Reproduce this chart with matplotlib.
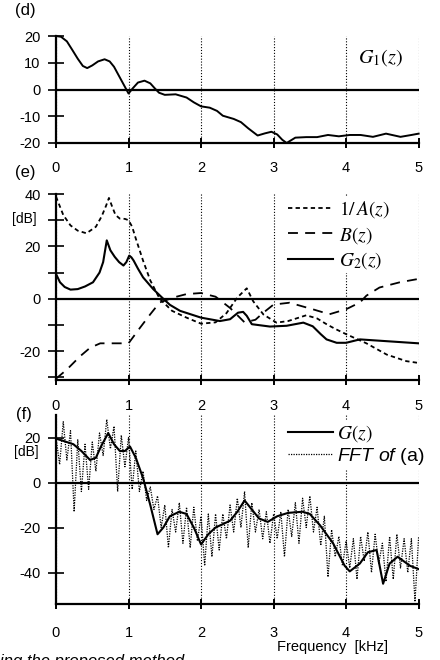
import numpy as np
import matplotlib
matplotlib.use('Agg')
import matplotlib.pyplot as plt
from matplotlib.font_manager import FontProperties

plt.rcParams['font.family'] = ['Liberation Sans', 'DejaVu Sans']
plt.rcParams['axes.unicode_minus'] = False
plt.rcParams['mathtext.fontset'] = 'custom'
plt.rcParams['mathtext.it'] = 'Liberation Sans:italic'
plt.rcParams['mathtext.rm'] = 'Liberation Sans'
plt.rcParams['mathtext.bf'] = 'Liberation Sans:bold'

# ---------------- data ----------------
freq_ticks = [0, 1, 2, 3, 4, 5]

# (d) G1(z)
g1_x = [0, 0.07, 0.15, 0.22, 0.3, 0.37, 0.43, 0.5, 0.58, 0.67, 0.74, 0.8, 0.86, 0.93,
        1.0, 1.06, 1.13, 1.22, 1.3, 1.36, 1.42, 1.5, 1.65, 1.8, 1.9, 2.0, 2.12, 2.22,
        2.3, 2.45, 2.55, 2.65, 2.78, 2.88, 2.97, 3.05, 3.12, 3.18, 3.3, 3.45, 3.6,
        3.75, 3.9, 4.05, 4.2, 4.37, 4.55, 4.75, 4.9, 5.0]
g1_y = [20, 19.7, 18, 15, 11.5, 8.8, 8, 9, 10.5, 11.3, 10.5, 8.5, 5.5, 2,
        -1.5, 0.5, 2.6, 3.3, 2.3, 0.5, -1.2, -2, -1.8, -3, -4.8, -6.3, -6.8, -8,
        -9.8, -11, -12.2, -14.5, -17.2, -16.4, -15.8, -16.8, -18.8, -20, -18,
        -17.8, -17.8, -17, -17.5, -17, -17, -17.7, -16.5, -17.7, -17, -16.5]

# (e) 1/A(z), B(z), G2(z)
inva_x = [0, 0.1, 0.2, 0.3, 0.42, 0.55, 0.63, 0.69, 0.73, 0.77, 0.82, 0.88, 0.95,
          1.0, 1.05, 1.1, 1.2, 1.3, 1.43, 1.6, 1.8, 2.0, 2.2, 2.35, 2.5, 2.63, 2.72,
          2.86, 3.04, 3.2, 3.45, 3.6, 3.73, 3.85, 4.0, 4.28, 4.56, 4.83, 5.0]
inva_y = [39, 32, 28, 26, 25, 27.5, 31.5, 35.5, 38.5, 35.5, 32, 30.6, 30.5,
          30, 27.5, 23, 14.6, 7, 0, -4.6, -7.2, -9.5, -9, -5.5, 0.5, 4, -1,
          -6, -9.1, -8.5, -6.3, -7.5, -9.7, -11.5, -13.5, -17, -21.3, -23.8, -24.5]

b_x = [0, 0.15, 0.33, 0.47, 0.61, 0.75, 0.9, 1.0, 1.16, 1.3, 1.43, 1.62, 1.8, 2.0,
       2.2, 2.4, 2.6, 2.75, 2.85, 3.0, 3.22, 3.54, 3.77, 4.0, 4.19, 4.28, 4.46, 4.74, 5.0]
b_y = [-30.5, -27, -22, -18.7, -17, -17, -17, -17, -11, -5.9, -1.4, 0.5, 1.8, 2.2,
       0.8, -3.5, -9, -8, -5.5, -2.2, -1.5, -4, -5.9, -4, -1.4, 1.2, 4.3, 6.3, 7.6]

g2_x = [0, 0.055, 0.12, 0.2, 0.3, 0.4, 0.51, 0.6, 0.65, 0.7, 0.75, 0.81, 0.87, 0.93,
        0.97, 1.01, 1.04, 1.07, 1.13, 1.2, 1.34, 1.48, 1.57, 1.71, 2.0, 2.26, 2.4,
        2.51, 2.58, 2.63, 2.7, 2.95, 3.18, 3.41, 3.54, 3.65, 3.73, 3.87, 4.0, 4.19,
        4.46, 5.0]
g2_y = [9.5, 6.3, 4.5, 3.5, 3.7, 4.7, 6.3, 10, 14, 22.3, 18.5, 16, 14, 12.7,
        14, 16.5, 15.8, 14.6, 11.5, 8.2, 3.7, 0, -2.3, -4.6, -7.2, -8.5, -7.8,
        -5.3, -5, -6.5, -9.7, -10.6, -10.3, -9.1, -10.5, -13.5, -15.5, -16.8, -16.8,
        -15.5, -16, -17]

# (f) G(z) and FFT of (a)
g_x = [0, 0.1, 0.24, 0.35, 0.47, 0.55, 0.62, 0.72, 0.8, 0.88, 0.95, 1.02, 1.1, 1.2,
       1.3, 1.4, 1.48, 1.57, 1.7, 1.8, 1.9, 2.0, 2.1, 2.2, 2.4, 2.5, 2.6, 2.7, 2.8,
       2.92, 3.05, 3.2, 3.4, 3.5, 3.64, 3.82, 3.98, 4.05, 4.19, 4.3, 4.42, 4.51, 4.6,
       4.71, 4.88, 5.0]
g_y = [19.5, 18.5, 17, 14, 10, 11, 16, 22, 17, 14, 14, 16, 11, 2,
       -10, -23, -20, -15, -13, -14, -20, -27.5, -23, -20, -17, -13, -8, -12, -16,
       -17.5, -15, -13.5, -13, -14, -19, -27, -37, -39.5, -36, -31, -30, -45, -36,
       -33, -37, -38.5]

fft_step = 0.05
fft_y = [20, 8, 27, 10, 23, -13, 19, -4, 17, -3, 18, 5, 22, 12, 28, 15, 25, -4, 21, 7,
         20, -3, 14, -4, 5, -8, -2, -12, -6, -20, -10, -29, -12, -22, -9, -27, -11, -29,
         -11, -26, -15, -37, -14, -33, -14, -30, -14, -25, -10, -22, -7, -20, -4, -29,
         -9, -22, -12, -25, -13, -27, -14, -25, -13, -33, -12, -24, -9, -27, -7, -20,
         -6, -22, -11, -28, -15, -42, -21, -33, -24, -37, -26, -38, -25, -43, -24, -35,
         -22, -40, -23, -36, -27, -44, -24, -43, -23, -38, -25, -40, -25, -53, -24]
fft_x = np.arange(len(fft_y)) * fft_step

# ---------------- figure ----------------
W, H = 440, 660
fig = plt.figure(figsize=(W / 100, H / 100), dpi=100)


def add_axes(top, bottom):
    return fig.add_axes([56 / W, 1 - bottom / H, (419 - 56) / W, (bottom - top) / H])


ax_d = add_axes(36, 143)
ax_e = add_axes(194, 380)
ax_f = add_axes(415, 604)

grid_ls = (0, (1, 1.6))


def style(ax, ylim, yticks, ylabels, xpad):
    ax.set_xlim(0, 5.005)
    ax.set_ylim(*ylim)
    for s in ['top', 'right']:
        ax.spines[s].set_visible(False)
    for s in ['left', 'bottom']:
        ax.spines[s].set_linewidth(1.6)
    ax.set_xticks(freq_ticks)
    ax.set_xticklabels([str(t) for t in freq_ticks])
    ax.set_yticks(yticks)
    ax.set_yticklabels(ylabels)
    ax.tick_params(axis='x', direction='inout', length=7, width=1.4, pad=xpad,
                   labelsize=10.5)
    ax.tick_params(axis='y', direction='inout', length=12, width=1.2, pad=5,
                   labelsize=10.5)
    ax.grid(axis='x', color='black', linestyle=grid_ls, linewidth=0.8)
    ax.grid(axis='y', visible=False)
    ax.axhline(0, color='black', lw=1.6, zorder=2)


style(ax_d, (-20, 20), [-20, -10, 0, 10, 20], ['-20', '-10', '0', '10', '20'], 9.5)
style(ax_e, (-31, 40), [-30, -20, -10, 0, 10, 20, 30, 40],
      ['', '-20', '', '0', '', '20', '', '40'], 10)
style(ax_f, (-54, 30), [-40, -20, 0, 20], ['-40', '-20', '0', '20'], 12)

# (d)
ax_d.plot(g1_x, g1_y, color='black', lw=1.4, zorder=3, clip_on=False)
ax_d.text(0.832, 0.80, r'$G_1(z)$', transform=ax_d.transAxes, fontsize=14.5,
          math_fontfamily='stix', va='center', ha='left')

# (e)
h1, = ax_e.plot(inva_x, inva_y, color='black', lw=1.3, linestyle=(0, (2.4, 1.8)),
                label=r'$1/\,A(z)$', zorder=3)
h2, = ax_e.plot(b_x, b_y, color='black', lw=1.3, linestyle=(0, (5.5, 4)),
                label=r'$B(z)$', zorder=3)
h3, = ax_e.plot(g2_x, g2_y, color='black', lw=1.5, label=r'$G_2(z)$', zorder=3)
leg_e = ax_e.legend(handles=[h1, h2, h3], loc='upper left',
                    bbox_to_anchor=(286 / W, 1 - 197 / H), bbox_transform=fig.transFigure,
                    prop=FontProperties(size=14, math_fontfamily='stix'),
                    frameon=True, fancybox=False, framealpha=1, borderpad=0.1,
                    borderaxespad=0, handlelength=2.3, handletextpad=0.3,
                    labelspacing=0.25)
leg_e.get_frame().set_edgecolor('none')
leg_e.set_zorder(5)

# (f)
hf, = ax_f.plot(fft_x, fft_y, color='black', lw=0.9, linestyle=(0, (1, 1)),
                label=r'$\mathit{FFT\ of}$ (a)', zorder=3)
hg, = ax_f.plot(g_x, g_y, color='black', lw=1.5, label=r'$G(z)$', zorder=4)
leg_f = ax_f.legend(handles=[hg, hf], loc='upper left',
                    bbox_to_anchor=(286 / W, 1 - 421 / H), bbox_transform=fig.transFigure,
                    prop=FontProperties(family='Liberation Sans', size=14,
                                        math_fontfamily='stix'),
                    frameon=True, fancybox=False, framealpha=1, borderpad=0.1,
                    borderaxespad=0, handlelength=2.3, handletextpad=0.2,
                    labelspacing=0.1)
leg_f.get_frame().set_edgecolor('none')
leg_f.get_texts()[1].set_math_fontfamily('custom')
leg_f.set_zorder(5)

# panel labels and annotations
fig.text(25 / W, 1 - 10 / H, '(d)', ha='center', va='center', fontsize=12)
fig.text(25 / W, 1 - 172 / H, '(e)', ha='center', va='center', fontsize=12)
fig.text(24 / W, 1 - 414 / H, '(f)', ha='center', va='center', fontsize=12)
fig.text(24 / W, 1 - 219 / H, '[dB]', ha='center', va='center', fontsize=10)
fig.text(26 / W, 1 - 452 / H, '[dB]', ha='center', va='center', fontsize=10)
fig.text(277 / W, 1 - 647 / H, 'Frequency  [kHz]', ha='left', va='center', fontsize=10.5)
fig.text(0.0, 1 - 654 / H, 'ing the proposed method.', ha='left', va='top',
         fontsize=12, style='italic')

fig.savefig('out.png', dpi=100)
